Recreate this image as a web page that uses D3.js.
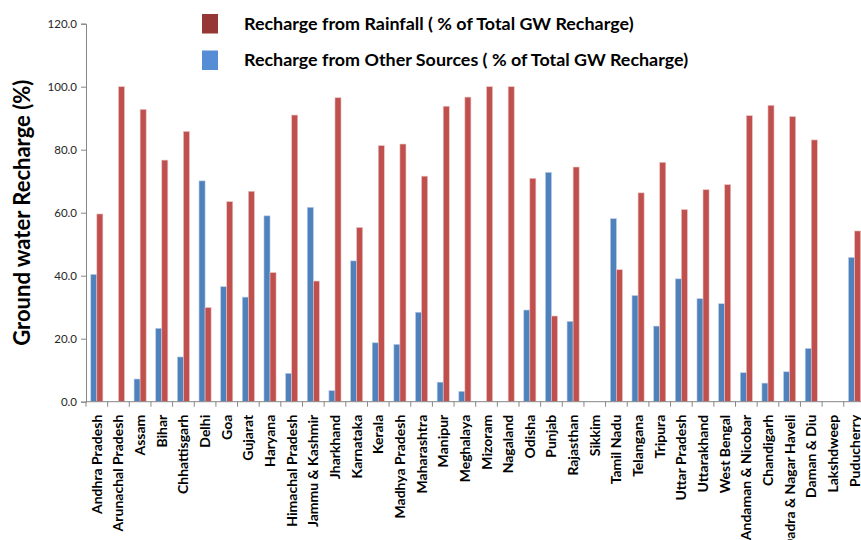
<!DOCTYPE html>
<html>
<head>
<meta charset="utf-8">
<script src="https://cdn.jsdelivr.net/npm/d3@7"></script>
<style>
  html, body { margin: 0; padding: 0; background: #fff; }
  svg { display: block; font-family: Lato, "Open Sans", sans-serif; }
</style>
</head>
<body>
<svg id="chart" width="861" height="540"></svg>
<script>
// States / UTs and share of groundwater recharge by source (%)
const states = [
  "Andhra Pradesh", "Arunachal Pradesh", "Assam", "Bihar", "Chhattisgarh", "Delhi",
  "Goa", "Gujarat", "Haryana", "Himachal Pradesh", "Jammu & Kashmir", "Jharkhand",
  "Karnataka", "Kerala", "Madhya Pradesh", "Maharashtra", "Manipur", "Meghalaya",
  "Mizoram", "Nagaland", "Odisha", "Punjab", "Rajasthan", "Sikkim",
  "Tamil Nadu", "Telangana", "Tripura", "Uttar Pradesh", "Uttarakhand", "West Bengal",
  "Andaman & Nicobar", "Chandigarh", "Dadra & Nagar Haveli", "Daman & Diu", "Lakshdweep", "Puducherry"
];
const rainfall = [
  59.6, 100.0, 92.8, 76.7, 85.8, 29.9,
  63.5, 66.8, 41.0, 91.0, 38.3, 96.5,
  55.3, 81.3, 81.8, 71.6, 93.8, 96.7,
  100.0, 100.0, 70.9, 27.2, 74.5, 0,
  41.9, 66.3, 76.0, 61.0, 67.3, 68.9,
  90.8, 94.1, 90.5, 83.1, 0, 54.2
];
const otherSources = [
  40.4, 0, 7.2, 23.3, 14.2, 70.1,
  36.5, 33.2, 59.0, 9.0, 61.7, 3.5,
  44.7, 18.7, 18.2, 28.4, 6.2, 3.3,
  0, 0, 29.1, 72.8, 25.5, 0,
  58.1, 33.7, 24.0, 39.0, 32.7, 31.1,
  9.2, 5.9, 9.5, 16.9, 0, 45.8
];
const yTicks = [0, 20, 40, 60, 80, 100, 120];

const seriesNames = [
  "Recharge from Rainfall ( % of Total GW Recharge)",
  "Recharge from Other Sources ( % of Total GW Recharge)"
];

const svg = d3.select("#chart");
const plotLeft = 86, plotRight = 865.4, plotTop = 23.7, plotBottom = 401.7;

const x = d3.scaleBand().domain(states).range([plotLeft, plotRight]).padding(0);
const inner = d3.scaleBand().domain(["other", "rain"]).range([0, x.bandwidth()])
  .paddingInner(0).paddingOuter(0.79);
const y = d3.scaleLinear().domain([0, 120]).range([plotBottom, plotTop]);

const colors = { rain: "#C0504D", other: "#4F81BD" };
const strokes = { rain: "#E9C5C4", other: "#B9CDE5" };
const legendColors = ["#953735", "#558ED5"];

// Bars
const rows = states.map((s, i) => ({ state: s, other: otherSources[i], rain: rainfall[i] }));
const groups = svg.append("g").selectAll("g").data(rows).join("g")
  .attr("transform", d => `translate(${x(d.state)},0)`);
groups.selectAll("rect")
  .data(d => ["other", "rain"].map(k => ({ key: k, value: d[k] })))
  .join("rect")
  .attr("x", d => inner(d.key))
  .attr("width", inner.bandwidth())
  .attr("y", d => y(d.value))
  .attr("height", d => y(0) - y(d.value))
  .attr("fill", d => colors[d.key])
  .attr("stroke", d => d.value > 0 ? strokes[d.key] : "none")
  .attr("stroke-width", 0.6);

// Y axis
const yAxis = svg.append("g")
  .attr("transform", `translate(${plotLeft},0)`)
  .call(d3.axisLeft(y).tickValues(yTicks).tickFormat(d3.format(".1f")).tickSizeOuter(0).tickSize(5));
yAxis.select(".domain").attr("stroke", "#868686");
yAxis.selectAll(".tick line").attr("stroke", "#868686");
yAxis.selectAll(".tick text").attr("font-size", 11.5).attr("fill", "#262626")
  .attr("font-family", "Lato, sans-serif").attr("x", -9);

// X axis: baseline with tick marks at category boundaries
const xAxis = svg.append("g");
xAxis.append("line")
  .attr("x1", plotLeft).attr("x2", plotRight)
  .attr("y1", y(0)).attr("y2", y(0))
  .attr("stroke", "#868686");
xAxis.selectAll("line.tk").data(states.concat(["__end"])).join("line")
  .attr("class", "tk")
  .attr("x1", (d, i) => plotLeft + i * x.step()).attr("x2", (d, i) => plotLeft + i * x.step())
  .attr("y1", y(0)).attr("y2", y(0) + 5)
  .attr("stroke", "#868686");
xAxis.selectAll("text").data(states).join("text")
  .attr("transform", d => `translate(${x(d) + x.bandwidth() / 2 + 5},${y(0) + 13}) rotate(-90)`)
  .attr("text-anchor", "end")
  .attr("font-size", 14)
  .attr("font-weight", "bold")
  .attr("fill", "#000")
  .text(d => d);

// Y axis title
svg.append("text")
  .attr("transform", `translate(30,${(plotTop + plotBottom) / 2}) rotate(-90)`)
  .attr("text-anchor", "middle")
  .attr("font-size", 22)
  .attr("font-weight", "bold")
  .text("Ground water Recharge (%)");

// Legend
const legend = svg.append("g");
seriesNames.forEach((name, i) => {
  const ly = 14 + i * 36.5;
  legend.append("rect")
    .attr("x", 202).attr("y", ly).attr("width", 16).attr("height", 19.5)
    .attr("fill", legendColors[i]);
  legend.append("text")
    .attr("x", 244).attr("y", ly + 15.5)
    .attr("font-size", 17.9)
    .attr("font-weight", "bold")
    .text(name);
});
</script>
</body>
</html>
